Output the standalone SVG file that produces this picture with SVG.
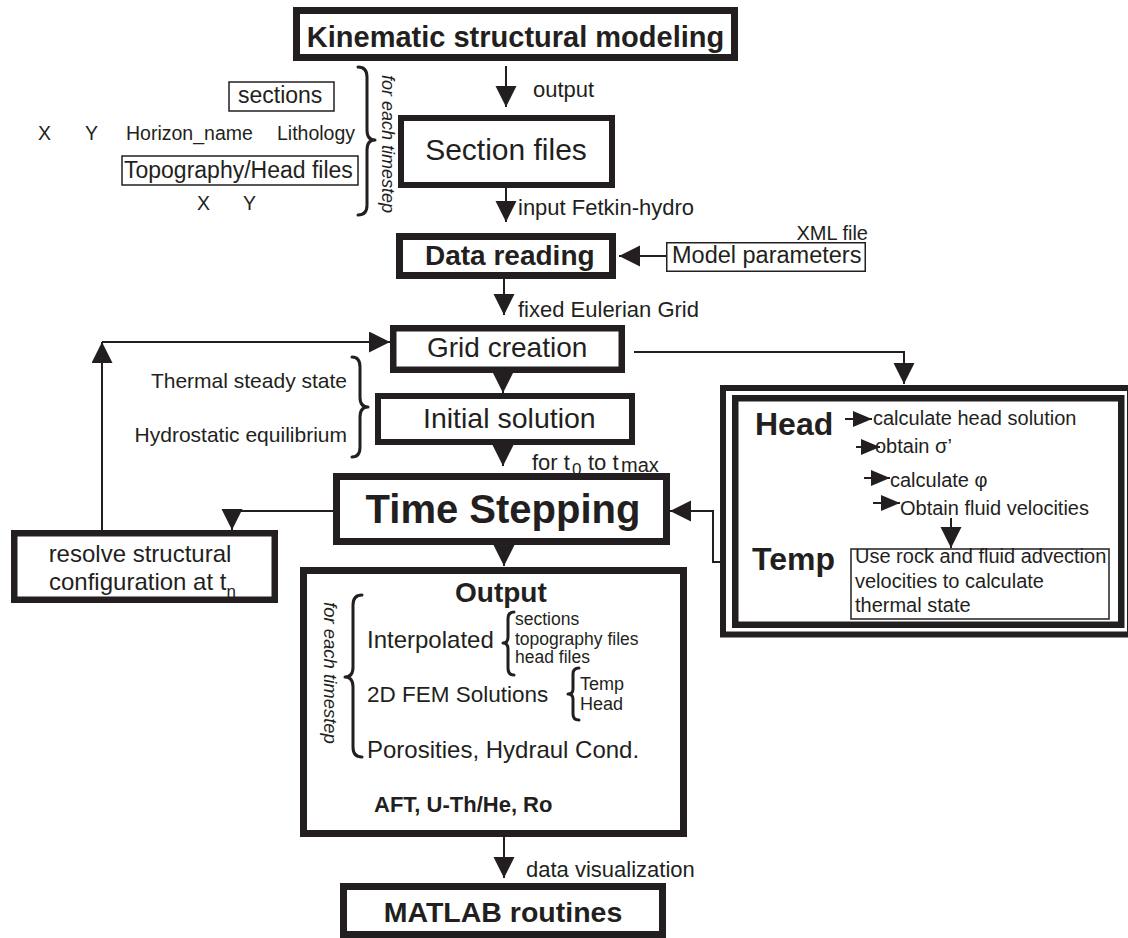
<svg xmlns="http://www.w3.org/2000/svg" width="1128" height="938" viewBox="0 0 1128 938">
<style>
.box{fill:#fff;stroke:#231f20}
.thin{fill:#fff;stroke:#231f20;stroke-width:1.5}
.conn{fill:none;stroke:#231f20;stroke-width:2}
.brace{fill:none;stroke:#231f20;stroke-width:3;stroke-linejoin:round;stroke-linecap:round}
.t{font-family:"Liberation Sans",Arial,sans-serif;fill:#231f20}
.b{font-weight:bold}
.i{font-style:italic}
</style>
<defs>
<marker id="arr" markerUnits="userSpaceOnUse" markerWidth="22" markerHeight="22" refX="21" refY="10.5" orient="auto"><path d="M0,0 L21,10.5 L0,21 z" fill="#231f20"/></marker>
<marker id="sm" markerUnits="userSpaceOnUse" markerWidth="20" markerHeight="17" refX="19" refY="8" orient="auto"><path d="M0,0 L19,8 L0,16 z" fill="#231f20"/></marker>
</defs>
<rect width="1128" height="938" fill="#fff"/>

<g id="connectors">
<path class="conn" d="M506,66 L506,107" marker-end="url(#arr)"/>
<path class="conn" d="M506,188 L506,222" marker-end="url(#arr)"/>
<path class="conn" d="M666,256 L619,256" marker-end="url(#arr)"/>
<path class="conn" d="M504,279 L504,315" marker-end="url(#arr)"/>
<path class="conn" d="M503,373 L503,393" marker-end="url(#arr)"/>
<path class="conn" d="M503,445 L503,466" marker-end="url(#arr)"/>
<path class="conn" d="M504,545 L504,566" marker-end="url(#arr)"/>
<path class="conn" d="M504,837 L504,878" marker-end="url(#arr)"/>
<path class="conn" d="M634,352 L904,352 L904,384" marker-end="url(#arr)"/>
<path class="conn" d="M720,562 L713,562 L713,511 L670,511" marker-end="url(#arr)"/>
<path class="conn" d="M333,511 L232,511 L232,530" marker-end="url(#arr)"/>
<path class="conn" d="M102,530 L102,342" marker-end="url(#arr)"/>
<path class="conn" d="M102,342 L390,342" marker-end="url(#arr)"/>
</g>

<g id="kinematic">
<rect class="box" x="296.5" y="10.5" width="438" height="47" stroke-width="7"/>
<text class="t b" x="515.5" y="47" font-size="29" text-anchor="middle">Kinematic structural modeling</text>
</g>
<text class="t" x="533" y="97" font-size="22">output</text>

<g id="section-files">
<rect class="box" x="401" y="118" width="211" height="67" stroke-width="6"/>
<text class="t" x="506" y="160" font-size="30" text-anchor="middle">Section files</text>
</g>

<g id="section-contents">
<rect class="thin" x="229" y="82" width="105" height="29"/>
<text class="t" x="238" y="103" font-size="23">sections</text>
<text class="t" x="38" y="140" font-size="19.5">X</text>
<text class="t" x="85" y="140" font-size="19.5">Y</text>
<text class="t" x="126" y="140" font-size="19.5">Horizon_name</text>
<text class="t" x="277" y="140" font-size="19.5">Lithology</text>
<rect class="thin" x="122" y="156" width="236" height="29"/>
<text class="t" x="124" y="178" font-size="23">Topography/Head files</text>
<text class="t" x="197" y="210" font-size="19.5">X</text>
<text class="t" x="243" y="210" font-size="19.5">Y</text>
<path class="brace" d="M358,67 Q367,67 367,77 L367,130 Q367,140 375,140 Q367,140 367,150 L367,205 Q367,215 358,215"/>
<text class="t i" transform="translate(382,75) rotate(90)" font-size="18">for each timestep</text>
</g>

<text class="t" x="518" y="215" font-size="22">input Fetkin-hydro</text>

<g id="data-reading">
<rect class="box" x="399.5" y="236.5" width="213" height="39" stroke-width="7"/>
<text class="t b" x="425" y="265" font-size="28">Data reading</text>
</g>

<g id="model-parameters">
<rect class="thin" x="666.75" y="242.75" width="198.5" height="28.5"/>
<text class="t" x="672" y="263" font-size="23.5">Model parameters</text>
<text class="t" x="868" y="240" font-size="20" text-anchor="end">XML file</text>
</g>

<text class="t" x="518" y="317" font-size="22">fixed Eulerian Grid</text>

<g id="grid-creation">
<rect class="box" x="393.25" y="328.25" width="228.5" height="41.5" stroke-width="6.5"/>
<text class="t" x="427" y="357" font-size="28">Grid creation</text>
</g>

<g id="initial-solution">
<rect class="box" x="378" y="396" width="254" height="46" stroke-width="6"/>
<text class="t" x="423" y="428" font-size="28.5">Initial solution</text>
<path class="brace" d="M352,357 Q360,357 360,367 L360,397 Q360,407 368,407 Q360,407 360,417 L360,447 Q360,457 352,457"/>
<text class="t" x="347" y="388" font-size="21" text-anchor="end">Thermal steady state</text>
<text class="t" x="347" y="442" font-size="21" text-anchor="end">Hydrostatic equilibrium</text>
</g>

<text class="t" font-size="22" y="470"><tspan x="532">for t</tspan><tspan x="572" dy="5" font-size="17">0</tspan><tspan x="588" dy="-5">to t</tspan><tspan x="621" dy="2" font-size="20">max</tspan></text>

<g id="time-stepping">
<rect class="box" x="336.5" y="476.5" width="330" height="65" stroke-width="7"/>
<text class="t b" x="503" y="523" font-size="40" text-anchor="middle">Time Stepping</text>
</g>

<g id="resolve">
<rect class="box" x="14.25" y="533.25" width="260.5" height="66.5" stroke-width="6.5"/>
<text class="t" x="140" y="562" font-size="24" text-anchor="middle">resolve structural</text>
<text class="t" x="49" y="590" font-size="24">configuration at t<tspan font-size="17" dy="7">n</tspan></text>
</g>

<g id="head-temp">
<rect class="box" x="723" y="388" width="407" height="246.5" stroke-width="6"/>
<rect class="box" x="735.25" y="398.25" width="386" height="226.5" stroke-width="6.5"/>
<text class="t b" x="755" y="435" font-size="32">Head</text>
<text class="t b" x="752" y="570" font-size="32">Temp</text>
<path class="conn" d="M845,419 L872,419" marker-end="url(#sm)"/>
<path class="conn" d="M856,447 L880,447" marker-end="url(#sm)"/>
<path class="conn" d="M864,478 L890,478" marker-end="url(#sm)"/>
<path class="conn" d="M873,503 L900,503" marker-end="url(#sm)"/>
<text class="t" x="873" y="425" font-size="20">calculate head solution</text>
<text class="t" x="875" y="453" font-size="20">obtain σ’</text>
<text class="t" x="890" y="487" font-size="20">calculate φ</text>
<text class="t" x="900" y="515" font-size="20">Obtain fluid velocities</text>
<path class="conn" d="M951,518 L951,548" marker-end="url(#arr)"/>
<rect class="thin" x="851" y="549" width="258" height="70"/>
<text class="t" x="855" y="563" font-size="20">Use rock and fluid advection</text>
<text class="t" x="855" y="588" font-size="20">velocities to calculate</text>
<text class="t" x="855" y="612" font-size="20">thermal state</text>
</g>

<g id="output">
<rect class="box" x="303.5" y="570.5" width="380" height="263" stroke-width="7"/>
<text class="t b" x="455" y="602" font-size="28">Output</text>
<text class="t i" transform="translate(324,602) rotate(90)" font-size="18.5">for each timestep</text>
<path class="brace" d="M362,595 Q353,595 353,605 L353,667 Q353,677 345,677 Q353,677 353,687 L353,747 Q353,757 362,757"/>
<text class="t" x="367" y="648" font-size="24">Interpolated</text>
<path class="brace" stroke-width="2" d="M514,612 Q508,612 508,619 L508,637 Q508,643 503,643 Q508,643 508,649 L508,668 Q508,675 514,675"/>
<text class="t" x="515" y="625" font-size="17.5">sections</text>
<text class="t" x="515" y="645" font-size="17.5">topography files</text>
<text class="t" x="515" y="663" font-size="17.5">head files</text>
<text class="t" x="367" y="702" font-size="22.5">2D FEM Solutions</text>
<path class="brace" stroke-width="2" d="M579,668 Q573,668 573,674 L573,689 Q573,694 568,694 Q573,694 573,699 L573,714 Q573,720 579,720"/>
<text class="t" x="580" y="690" font-size="18">Temp</text>
<text class="t" x="580" y="710" font-size="18">Head</text>
<text class="t" x="367" y="758" font-size="24">Porosities, Hydraul Cond.</text>
<text class="t b" x="374" y="812" font-size="22">AFT, U-Th/He, Ro</text>
</g>

<text class="t" x="526" y="877" font-size="22">data visualization</text>

<g id="matlab">
<rect class="box" x="343.5" y="886.5" width="319" height="48" stroke-width="7"/>
<text class="t b" x="503" y="922" font-size="28.5" text-anchor="middle">MATLAB routines</text>
</g>
</svg>
